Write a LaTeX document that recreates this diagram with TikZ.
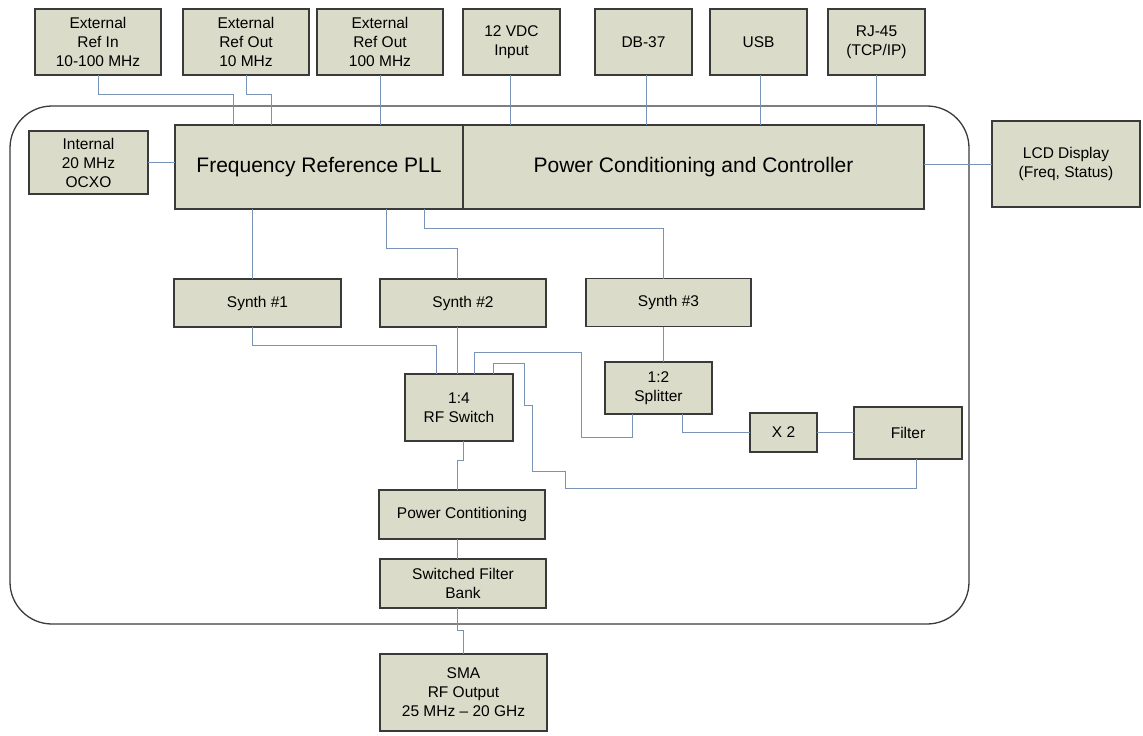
\documentclass[tikz,border=0pt]{standalone}
\usepackage{fontspec}
\setmainfont{Liberation Sans}

\begin{document}
\begin{tikzpicture}[x=1pt,y=-1pt,
  blk/.style={draw=boxline, fill=boxfill, line width=1.2pt, align=center,
    inner sep=2pt, outer sep=0pt, font=\fontsize{15.5}{19}\selectfont},
  bigblk/.style={blk, font=\fontsize{21}{25}\selectfont},
  wire/.style={draw=wireblue, line width=1pt}]

\definecolor{boxfill}{HTML}{DADBC8}
\definecolor{boxline}{HTML}{3A3A3A}
\definecolor{wireblue}{HTML}{7893B5}

\useasboundingbox (0,0) rectangle (1143,736);

% enclosure
\draw[boxline, line width=1.3pt, rounded corners=42pt] (10,106) rectangle (969,624);

% connectors on top
\node[blk, minimum width=126pt, minimum height=66pt] (extin) at (98,42) {External\\Ref In\\10-100 MHz};
\node[blk, minimum width=126pt, minimum height=66pt] (extout10) at (246,42) {External\\Ref Out\\10 MHz};
\node[blk, minimum width=126pt, minimum height=66pt] (extout100) at (380,42) {External\\Ref Out\\100 MHz};
\node[blk, minimum width=97pt, minimum height=66pt] (vdc) at (511.5,42) {12 VDC\\Input};
\node[blk, minimum width=97pt, minimum height=66pt] (db37) at (643.5,42) {DB-37};
\node[blk, minimum width=97pt, minimum height=66pt] (usb) at (758.5,42) {USB};
\node[blk, minimum width=97pt, minimum height=66pt] (rj45) at (876.5,42) {RJ-45\\(TCP/IP)};

% main blocks
\node[bigblk, minimum width=288pt, minimum height=84pt] (pll) at (319,167) {Frequency Reference PLL};
\node[bigblk, minimum width=461pt, minimum height=84pt] (pcc) at (693.5,167) {Power Conditioning and Controller};
\node[blk, minimum width=119pt, minimum height=63pt] (ocxo) at (88.5,162.5) {Internal\\20 MHz\\OCXO};
\node[blk, minimum width=148pt, minimum height=86pt] (lcd) at (1066,164) {LCD Display\\(Freq, Status)};

\node[blk, minimum width=167pt, minimum height=48pt] (synth1) at (257.5,303) {Synth \#1};
\node[blk, minimum width=166pt, minimum height=48pt] (synth2) at (463,303) {Synth \#2};
\node[blk, minimum width=165pt, minimum height=48pt] (synth3) at (668.5,302.5) {Synth \#3};

\node[blk, minimum width=108pt, minimum height=67pt] (rfsw) at (459,407.5) {1:4\\RF Switch};
\node[blk, minimum width=107pt, minimum height=52pt] (split) at (658.5,388) {1:2\\Splitter};
\node[blk, minimum width=67pt, minimum height=39pt] (x2) at (783.5,432.5) {X 2};
\node[blk, minimum width=108pt, minimum height=52pt] (filter) at (908,433) {Filter};

\node[blk, minimum width=166pt, minimum height=49pt] (pwrc) at (462,514.5) {Power Contitioning};
\node[blk, minimum width=166pt, minimum height=49pt] (sfb) at (463,583.5) {Switched Filter\\Bank};
\node[blk, minimum width=167pt, minimum height=77pt] (sma) at (463.5,692.5) {SMA\\RF Output\\25 MHz -- 20 GHz};

% wiring
\draw[wire] (extin.south) -- ++(0,19) -| ([xshift=58pt]pll.north west);
\draw[wire] (extout10.south) -- ++(0,19) -| ([xshift=96pt]pll.north west);
\draw[wire] (extout100.south) -- (extout100.south |- pll.north);
\draw[wire] ([xshift=-1.5pt]vdc.south) -- ([xshift=-1.5pt]vdc.south |- pcc.north);
\draw[wire] ([xshift=2.5pt]db37.south) -- ([xshift=2.5pt]db37.south |- pcc.north);
\draw[wire] ([xshift=1.5pt]usb.south) -- ([xshift=1.5pt]usb.south |- pcc.north);
\draw[wire] (rj45.south) -- (rj45.south |- pcc.north);
\draw[wire] (ocxo.east) -- (ocxo.east -| pll.west);
\draw[wire] (lcd.west -| pcc.east) -- (lcd.west);

\draw[wire] ([xshift=77pt]pll.south west) -- ([xshift=77pt]pll.south west |- synth1.north);
\draw[wire] ([xshift=211pt]pll.south west) -- ++(0,39) -| ([xshift=-6pt]synth2.north);
\draw[wire] ([xshift=249pt]pll.south west) -- ++(0,19) -| ([xshift=-5pt]synth3.north);

\draw[wire] ([xshift=-5pt]synth1.south) -- ++(0,18) -| ([xshift=-23pt]rfsw.north);
\draw[wire] ([xshift=-6pt]synth2.south) -- ([xshift=-6pt]synth2.south |- rfsw.north);
\draw[wire] ([xshift=-5pt]synth3.south) -- ([xshift=-5pt]synth3.south |- split.north);

\draw[wire] ([xshift=15pt]rfsw.north) -- ++(0,-22) -- ++(107,0) -- ++(0,85) -| ([xshift=-26.5pt]split.south);
\draw[wire] ([xshift=34pt]rfsw.north) -- ++(0,-11) -- ++(31,0) -- ++(0,42) -- ++(8,0)
  -- ++(0,66) -- ++(33,0) -- ++(0,17) -| ([xshift=8pt]filter.south);
\draw[wire] ([xshift=23.5pt]split.south) |- (x2.west);
\draw[wire] (x2.east) -- (x2.east -| filter.west);

\draw[wire] ([xshift=4pt]rfsw.south) -- ++(0,19) -| ([xshift=-5pt]pwrc.north);
\draw[wire] ([xshift=-5pt]pwrc.south) -- ([xshift=-5pt]pwrc.south |- sfb.north);
\draw[wire] ([xshift=-6pt]sfb.south) -- ++(0,22) -| (sma.north);

\end{tikzpicture}
\end{document}
